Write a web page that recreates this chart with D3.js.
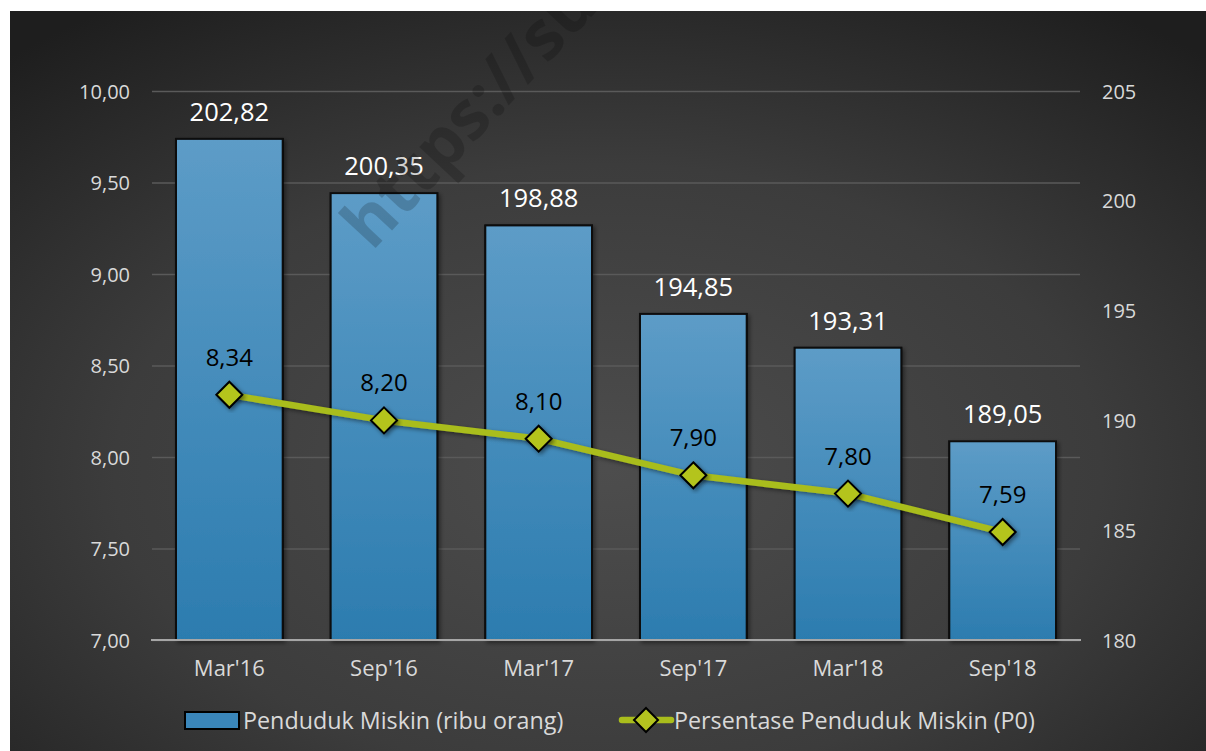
<!DOCTYPE html>
<html>
<head>
<meta charset="utf-8">
<script src="https://cdn.jsdelivr.net/npm/d3@7"></script>
<style>
  html, body { margin: 0; padding: 0; background: #ffffff; }
  svg { display: block; }
  text { font-family: "Open Sans", "DejaVu Sans", sans-serif; }
</style>
</head>
<body>
<svg id="chart" width="1206" height="751"></svg>
<script>
// Periods and series
const periods = ["Mar'16", "Sep'16", "Mar'17", "Sep'17", "Mar'18", "Sep'18"];
const pendudukMiskin = [202.82, 200.35, 198.88, 194.85, 193.31, 189.05];   // ribu orang
const persentaseP0 = [8.34, 8.20, 8.10, 7.90, 7.80, 7.59];                  // persen
const leftTicks = [7.0, 7.5, 8.0, 8.5, 9.0, 9.5, 10.0];
const rightTicks = [180, 185, 190, 195, 200, 205];
const seriesNames = ["Penduduk Miskin (ribu orang)", "Persentase Penduduk Miskin (P0)"];

const fmt2 = d => d3.format(".2f")(d).replace(".", ",");
const fmt0 = d => d3.format("d")(d);

const svg = d3.select("#chart");
const W = 1206, H = 751;
const frame = { x: 10, y: 11 };
const plot = { left: 152, right: 1080, top: 91, bottom: 640 };

const defs = svg.append("defs");

const bg = defs.append("radialGradient").attr("id", "bgGrad")
  .attr("cx", "50%").attr("cy", "62%").attr("r", "75%");
bg.append("stop").attr("offset", "0%").attr("stop-color", "#4d4d4d");
bg.append("stop").attr("offset", "55%").attr("stop-color", "#3c3c3c");
bg.append("stop").attr("offset", "100%").attr("stop-color", "#1e1e1e");

const barGrad = defs.append("linearGradient").attr("id", "barGrad")
  .attr("x1", 0).attr("y1", 0).attr("x2", 0).attr("y2", 1);
barGrad.append("stop").attr("offset", "0%").attr("stop-color", "#5d9cc7");
barGrad.append("stop").attr("offset", "100%").attr("stop-color", "#2c7caf");

const shadow = defs.append("filter").attr("id", "shadow")
  .attr("x", "-20%").attr("y", "-20%").attr("width", "140%").attr("height", "140%");
shadow.append("feDropShadow").attr("dx", 2).attr("dy", 2).attr("stdDeviation", 2)
  .attr("flood-color", "#000").attr("flood-opacity", 0.45);

defs.append("clipPath").attr("id", "frameClip")
  .append("rect").attr("x", frame.x).attr("y", frame.y)
  .attr("width", W - frame.x).attr("height", H - frame.y);

// Dark panel
svg.append("rect").attr("x", frame.x).attr("y", frame.y)
  .attr("width", W - frame.x).attr("height", H - frame.y)
  .attr("fill", "url(#bgGrad)");

// Scales
const x = d3.scaleBand().domain(periods).range([plot.left, plot.right]).paddingInner(0.31).paddingOuter(0.155);
const yL = d3.scaleLinear().domain([7, 10]).range([plot.bottom, plot.top]);
const yR = d3.scaleLinear().domain([180, 205]).range([plot.bottom, plot.top]);

// Gridlines and left axis labels
const leftAxis = d3.axisLeft(yL).tickValues(leftTicks).tickFormat(fmt2)
  .tickSize(-(plot.right - plot.left)).tickPadding(22);
const gL = svg.append("g").attr("transform", `translate(${plot.left},0)`).call(leftAxis);
gL.select(".domain").remove();
gL.selectAll(".tick line").attr("stroke", "#5a5a5a").attr("stroke-width", 1.5);
gL.selectAll(".tick text").attr("fill", "#d9d9d9").attr("font-size", 20).attr("dy", "0.35em");

// Right axis labels
const rightAxis = d3.axisRight(yR).tickValues(rightTicks).tickFormat(fmt0).tickSize(0).tickPadding(22);
const gR = svg.append("g").attr("transform", `translate(${plot.right},0)`).call(rightAxis);
gR.select(".domain").remove();
gR.selectAll(".tick text").attr("fill", "#d9d9d9").attr("font-size", 20).attr("dy", "0.35em");

// Bars
svg.append("g").selectAll("rect").data(periods).join("rect")
  .attr("x", d => x(d))
  .attr("y", (d, i) => yR(pendudukMiskin[i]))
  .attr("width", x.bandwidth())
  .attr("height", (d, i) => yR(180) - yR(pendudukMiskin[i]))
  .attr("fill", "url(#barGrad)")
  .attr("stroke", "#0a0a0a").attr("stroke-width", 2)
  .attr("filter", "url(#shadow)");

// Category axis
const bottomAxis = d3.axisBottom(x).tickSize(0).tickPadding(20);
const gB = svg.append("g").attr("transform", `translate(0,${plot.bottom})`).call(bottomAxis);
gB.select(".domain").attr("stroke", "#a6a6a6").attr("stroke-width", 2)
  .attr("d", `M${plot.left - 1},0H${plot.right + 1}`);
gB.selectAll(".tick text").attr("fill", "#d9d9d9").attr("font-size", 22);

// Bar value labels
svg.append("g").selectAll("text").data(periods).join("text")
  .attr("x", d => x(d) + x.bandwidth() / 2)
  .attr("y", (d, i) => yR(pendudukMiskin[i]) - 18)
  .attr("text-anchor", "middle")
  .attr("fill", "#ffffff").attr("font-size", 25.5)
  .text((d, i) => fmt2(pendudukMiskin[i]));

// Percentage line
const cx = d => x(d) + x.bandwidth() / 2;
const line = d3.line().x(d => cx(d)).y((d, i) => yL(persentaseP0[i]));
svg.append("path").datum(periods)
  .attr("d", line)
  .attr("fill", "none").attr("stroke", "#a9bd1c").attr("stroke-width", 6.5)
  .attr("stroke-linejoin", "round")
  .attr("filter", "url(#shadow)");

const diamond = s => `M0,${-s}L${s},0L0,${s}L${-s},0Z`;
svg.append("g").selectAll("path").data(periods).join("path")
  .attr("transform", (d, i) => `translate(${cx(d)},${yL(persentaseP0[i])})`)
  .attr("d", diamond(13))
  .attr("fill", "#b4c41f").attr("stroke", "#000").attr("stroke-width", 2)
  .attr("filter", "url(#shadow)");

svg.append("g").selectAll("text").data(periods).join("text")
  .attr("x", d => cx(d))
  .attr("y", (d, i) => yL(persentaseP0[i]) - 29)
  .attr("text-anchor", "middle")
  .attr("fill", "#000").attr("font-size", 24)
  .text((d, i) => fmt2(persentaseP0[i]));

// Legend
const lg = svg.append("g");
lg.append("rect").attr("x", 185).attr("y", 712).attr("width", 54).attr("height", 17)
  .attr("fill", "#3a86ba").attr("stroke", "#000").attr("stroke-width", 2);
lg.append("text").attr("x", 243).attr("y", 729).attr("fill", "#d9d9d9").attr("font-size", 23.3)
  .text(seriesNames[0]);
lg.append("line").attr("x1", 622).attr("x2", 671).attr("y1", 720).attr("y2", 720)
  .attr("stroke", "#a9bd1c").attr("stroke-width", 6.5).attr("stroke-linecap", "round");
lg.append("path").attr("transform", "translate(646,720)").attr("d", diamond(12))
  .attr("fill", "#b4c41f").attr("stroke", "#000").attr("stroke-width", 2);
lg.append("text").attr("x", 674).attr("y", 729).attr("fill", "#d9d9d9").attr("font-size", 23.3)
  .text(seriesNames[1]);

// Watermark over the plot
svg.append("g").attr("clip-path", "url(#frameClip)")
  .append("text")
  .attr("transform", "translate(372,252) rotate(-47)")
  .attr("font-size", 68).attr("font-weight", "bold")
  .attr("fill", "#000").attr("fill-opacity", 0.18)
  .text("https://sulut.bps.go.id");
</script>
</body>
</html>
